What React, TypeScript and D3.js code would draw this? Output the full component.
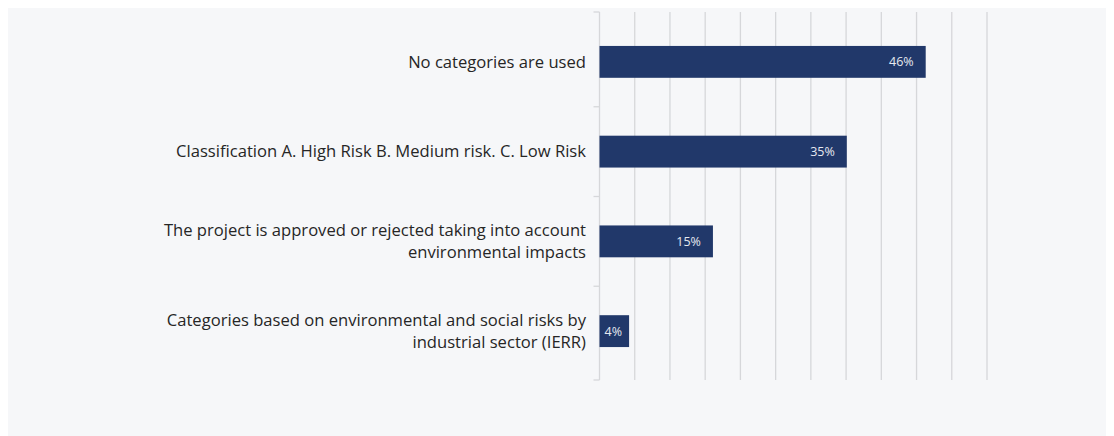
import React from "react";
import * as d3 from "d3";

const categories: string[][] = [
  ["No categories are used"],
  ["Classification A. High Risk B. Medium risk. C. Low Risk"],
  ["The project is approved or rejected taking into account", "environmental impacts"],
  ["Categories based on environmental and social risks by", "industrial sector (IERR)"],
];
const values: number[] = [46.3, 35.1, 16.1, 4.2];
const dataLabels: string[] = ["46%", "35%", "15%", "4%"];
const xTicks: number[] = [0, 5, 10, 15, 20, 25, 30, 35, 40, 45, 50, 55];

const W = 1098;
const H = 428;
const OX = 8; // svg placed at body margin
const plotLeft = 599.5 - OX;
const plotRight = 987 - OX;
const plotTop = 12 - OX;
const plotBottom = 380 - OX;
const bandTop = 17 - OX;
const bandBottom = 376 - OX;

const FONT = "'Open Sans', Lato, sans-serif";

export default function App() {
  const x = d3.scaleLinear().domain([0, 55]).range([plotLeft, plotRight]);
  const y = d3
    .scaleBand<number>()
    .domain(d3.range(categories.length))
    .range([bandTop, bandBottom])
    .paddingInner(0.645)
    .paddingOuter(0.3225);
  const step = y.step();
  const bandEdges = d3.range(1, categories.length).map((i) => bandTop + i * step);
  const tickYs = [plotTop, ...bandEdges, plotBottom];

  return (
    <svg width={W} height={H} style={{ display: "block" }}>
      <rect x={0} y={0} width={W} height={H} fill="#f6f7f9" />
      {xTicks.slice(1).map((t) => (
        <line
          key={t}
          x1={x(t)}
          x2={x(t)}
          y1={plotTop}
          y2={plotBottom}
          stroke="#d6d7da"
          strokeWidth={1.3}
        />
      ))}
      <line x1={plotLeft} x2={plotLeft} y1={plotTop} y2={plotBottom} stroke="#d6d7da" strokeWidth={1.3} />
      {tickYs.map((ty, i) => (
        <line key={i} x1={plotLeft - 6} x2={plotLeft} y1={ty} y2={ty} stroke="#d6d7da" strokeWidth={1.3} />
      ))}
      {values.map((v, i) => {
        const by = y(i)!;
        const bh = y.bandwidth();
        const x0 = x(0);
        const x1 = x(v);
        const small = x1 - x0 < 45;
        return (
          <g key={i}>
            <rect x={x0} y={by} width={x1 - x0} height={bh} fill="#21386a" />
            <text
              x={small ? (x0 + x1) / 2 - 1 : x1 - 12}
              y={by + bh / 2}
              dy="0.35em"
              textAnchor={small ? "middle" : "end"}
              fill="#e6e9f0"
              fontFamily={FONT}
              fontSize={12.5}
            >
              {dataLabels[i]}
            </text>
          </g>
        );
      })}
      {categories.map((lines, i) => {
        const cy = y(i)! + y.bandwidth() / 2;
        const lh = 22;
        const start = cy - ((lines.length - 1) * lh) / 2;
        return (
          <g key={i}>
            {lines.map((l, j) => (
              <text
                key={j}
                x={586 - OX}
                y={start + j * lh}
                dy="0.35em"
                textAnchor="end"
                fontFamily={FONT}
                fontSize={16.6}
                fill="#262626"
              >
                {l}
              </text>
            ))}
          </g>
        );
      })}
    </svg>
  );
}
